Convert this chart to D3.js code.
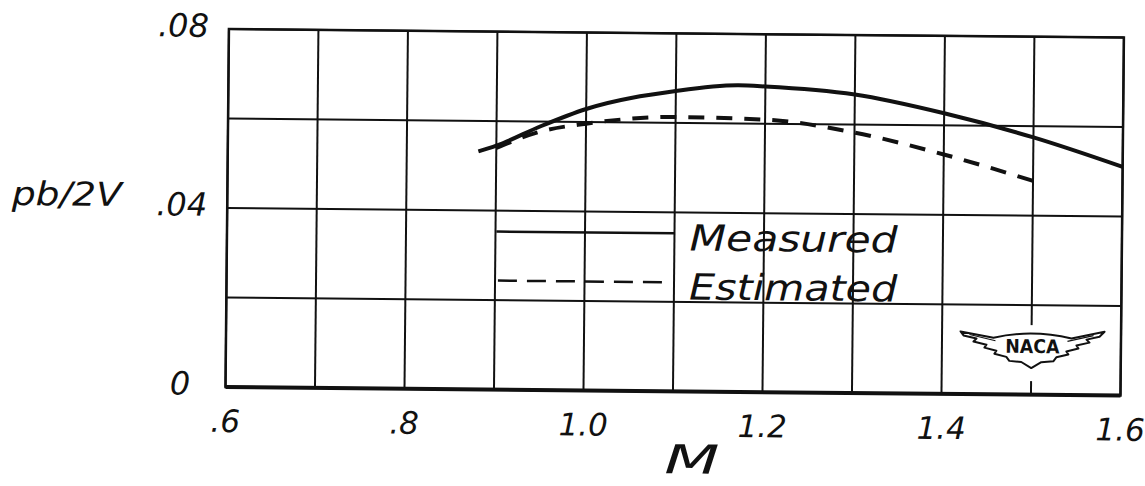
<!DOCTYPE html>
<html>
<head>
<meta charset="utf-8">
<script src="https://cdn.jsdelivr.net/npm/d3@7"></script>
<style>
  html, body { margin: 0; padding: 0; background: #fff; }
  svg { display: block; }
  text { font-family: "DejaVu Sans", "Liberation Sans", sans-serif; font-style: italic; fill: #111; }
</style>
</head>
<body>
<svg id="chart" width="1145" height="486"></svg>
<script>
// Rolling performance pb/2V against Mach number
const machMeasured = [0.88, 0.90, 0.95, 1.00, 1.10, 1.17, 1.20, 1.30, 1.40, 1.50, 1.60];
const pbMeasured   = [0.0532, 0.0545, 0.0590, 0.0629, 0.0671, 0.0685, 0.0683, 0.0667, 0.0627, 0.0575, 0.0511];

const machEstimated = [0.90, 0.95, 1.00, 1.10, 1.20, 1.30, 1.40, 1.50];
const pbEstimated   = [0.0540, 0.0578, 0.0596, 0.0613, 0.0609, 0.0582, 0.0535, 0.0478];

const xTicks = [0.6, 0.8, 1.0, 1.2, 1.4, 1.6];
const xTickLabels = [".6", ".8", "1.0", "1.2", "1.4", "1.6"];
const yTicks = [0, 0.04, 0.08];
const yTickLabels = ["0", ".04", ".08"];
const xGrid = d3.range(0.6, 1.6001, 0.1);
const yGrid = [0, 0.02, 0.04, 0.06, 0.08];
const legendNames = ["Measured", "Estimated"];

const svg = d3.select("#chart");
const x = d3.scaleLinear().domain([0.6, 1.6]).range([225.5, 1120.5]);
const y = d3.scaleLinear().domain([0, 0.08]).range([387, 29]);

// the sheet sits slightly skewed on the page
const g = svg.append("g").attr("transform", `rotate(0.55, ${x(0.6)}, ${y(0)})`);

// grid
g.append("g").selectAll("line").data(xGrid).join("line")
  .attr("x1", d => x(d)).attr("x2", d => x(d))
  .attr("y1", y(0)).attr("y2", y(0.08))
  .attr("stroke", "#111").attr("stroke-width", 2);
g.append("g").selectAll("line").data(yGrid).join("line")
  .attr("x1", x(0.6)).attr("x2", x(1.6))
  .attr("y1", d => y(d)).attr("y2", d => y(d))
  .attr("stroke", "#111").attr("stroke-width", 2);

// frame
g.append("rect")
  .attr("x", x(0.6)).attr("y", y(0.08))
  .attr("width", x(1.6) - x(0.6)).attr("height", y(0) - y(0.08))
  .attr("fill", "none").attr("stroke", "#111").attr("stroke-width", 2.5);
g.append("line")
  .attr("x1", x(0.6)).attr("x2", x(1.6))
  .attr("y1", y(0)).attr("y2", y(0))
  .attr("stroke", "#111").attr("stroke-width", 4);

// curves
const line = d3.line().curve(d3.curveMonotoneX).x(d => x(d[0])).y(d => y(d[1]));
g.append("path")
  .attr("d", line(d3.zip(machMeasured, pbMeasured)))
  .attr("fill", "none").attr("stroke", "#111").attr("stroke-width", 4);
g.append("path")
  .attr("d", line(d3.zip(machEstimated, pbEstimated)))
  .attr("fill", "none").attr("stroke", "#111").attr("stroke-width", 4)
  .attr("stroke-dasharray", "16 12");

// axis tick labels
g.append("g").selectAll("text").data(xTicks).join("text")
  .attr("x", d => x(d)).attr("y", y(0) + 45)
  .attr("text-anchor", "middle").attr("font-size", 31)
  .text((d, i) => xTickLabels[i]);
g.append("g").selectAll("text").data(yTicks).join("text")
  .attr("x", 180).attr("y", d => y(d) + 8)
  .attr("text-anchor", "middle").attr("font-size", 32)
  .text((d, i) => yTickLabels[i]);

// axis titles
g.append("text").attr("x", 10).attr("y", 207).attr("font-size", 33)
  .attr("textLength", 110).attr("lengthAdjust", "spacingAndGlyphs").text("pb/2V");
g.append("text").attr("x", 665).attr("y", 469).attr("font-size", 40)
  .attr("textLength", 55).attr("lengthAdjust", "spacingAndGlyphs").text("M");

// legend
const legX0 = x(0.901), legX1 = x(1.10), legText = x(1.117);
const legY = [229, 278];
g.append("line").attr("x1", legX0).attr("x2", legX1)
  .attr("y1", legY[0]).attr("y2", legY[0])
  .attr("stroke", "#111").attr("stroke-width", 2.5);
g.append("line").attr("x1", legX0 + 2).attr("x2", legX1 - 6)
  .attr("y1", legY[1]).attr("y2", legY[1])
  .attr("stroke", "#111").attr("stroke-width", 2.5)
  .attr("stroke-dasharray", "19 10");
g.append("g").selectAll("text").data(legendNames).join("text")
  .attr("x", legText).attr("y", (d, i) => legY[i] + 17)
  .attr("font-size", 36)
  .attr("textLength", 208).attr("lengthAdjust", "spacingAndGlyphs")
  .text(d => d);

// NACA wing emblem
const logo = g.append("g").attr("transform", `translate(${x(1.5)}, ${y(0.0102)})`);
logo.append("rect").attr("x", -74).attr("y", -24).attr("width", 150).attr("height", 56).attr("fill", "#fff");
logo.append("path")
  .attr("d", "M-71,-17 L-38,-11 Q0,-20 40,-11 L73,-18 L68,-13 L55,-10 L58,-7 L45,-4 L47,-1 L35,2 L37,5 L25,8 L22,12 L10,13 L0,19 L-10,13 L-22,12 L-25,8 L-37,5 L-35,2 L-47,-1 L-45,-4 L-58,-7 L-55,-10 L-68,-13 Z")
  .attr("fill", "#fff").attr("stroke", "#111").attr("stroke-width", 2).attr("stroke-linejoin", "round");
logo.append("path")
  .attr("d", "M-62,-14 L-36,-8 M62,-14 L36,-8")
  .attr("fill", "none").attr("stroke", "#111").attr("stroke-width", 1.2);
logo.append("text").attr("x", 1).attr("y", 4)
  .attr("text-anchor", "middle").attr("font-size", 19).attr("font-weight", "bold")
  .style("font-style", "normal")
  .attr("textLength", 54).attr("lengthAdjust", "spacingAndGlyphs")
  .text("NACA");
</script>
</body>
</html>
